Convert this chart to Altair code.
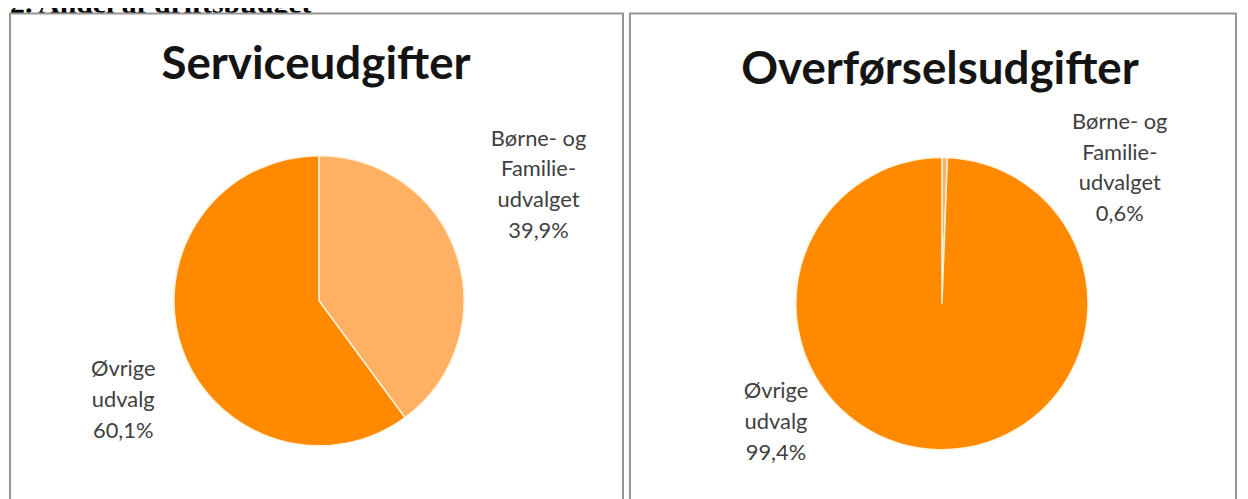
import altair as alt
import pandas as pd

# ---- data -------------------------------------------------------------
heading = "2. Andel af driftsbudget"
panel_titles = ["Serviceudgifter", "Overførselsudgifter"]
category_names = ["Børne- og Familieudvalget", "Øvrige udvalg"]
category_labels = ["Børne- og\nFamilie-\nudvalget", "Øvrige\nudvalg"]
service_values = [39.9, 60.1]
transfer_values = [0.6, 99.4]
slice_colors = ["#FFB062", "#FF8A00"]


def pct(v):
    return f"{v:.1f}".replace(".", ",") + "%"


def make_df(values):
    return pd.DataFrame({
        "category": category_names,
        "label": [f"{l}\n{pct(v)}" for l, v in zip(category_labels, values)],
        "value": values,
        "ord": [0, 1],
    })


one = pd.DataFrame({"k": [0]})
TITLE_FONT = "Lato"
LABEL_FONT = "Lato"


def panel(values, title, x1, x2, cx, cy, r, title_x, title_y, lab_pos):
    df = make_df(values)
    frame = alt.Chart(one).mark_rect(
        fill="white", stroke="#969696", strokeWidth=2
    ).encode(x=alt.value(x1), x2=alt.value(x2), y=alt.value(4), y2=alt.value(560))

    pie = alt.Chart(df).mark_arc(
        radius=r, stroke="#FFF1DC", strokeWidth=1.5
    ).encode(
        theta=alt.Theta("value:Q", stack=True, scale=alt.Scale(domain=[0, 100])),
        color=alt.Color("category:N",
                        scale=alt.Scale(domain=category_names, range=slice_colors),
                        legend=None),
        order=alt.Order("ord:Q"),
        x=alt.value(cx),
        y=alt.value(cy),
    )

    ttl = alt.Chart(pd.DataFrame({"t": [title]})).mark_text(
        font=TITLE_FONT, fontSize=46, fontWeight="bold", color="#141414",
        align="center", baseline="alphabetic"
    ).encode(text="t:N", x=alt.value(title_x), y=alt.value(title_y))

    labels = []
    for cat, (lx, ly) in zip(category_names, lab_pos):
        labels.append(
            alt.Chart(df).transform_filter(alt.datum.category == cat).mark_text(
                font=LABEL_FONT, fontSize=22, color="#404040", align="center",
                baseline="middle", lineBreak="\n", lineHeight=31
            ).encode(text="label:N", x=alt.value(lx), y=alt.value(ly))
        )
    return [frame, pie, ttl] + labels


head = alt.Chart(pd.DataFrame({"h": [heading]})).mark_text(
    font="Liberation Serif", fontSize=30, fontWeight="bold", color="#000000",
    align="left", baseline="alphabetic"
).encode(text="h:N", x=alt.value(2), y=alt.value(3))

layers = [head]
layers += panel(service_values, panel_titles[0], 2, 619, 313, 293, 146, 310, 70,
                [(534, 130), (116, 362)])
layers += panel(transfer_values, panel_titles[1], 626, 1236, 940, 296, 147, 938, 75,
                [(1119, 113), (773, 384)])

chart = alt.layer(*layers).properties(
    width=1240, height=491, padding=0,
    autosize=alt.AutoSizeParams(type="none"),
    background="white",
).configure_view(stroke=None)

chart.save("out.html", embed_options={"renderer": "svg", "actions": False})
